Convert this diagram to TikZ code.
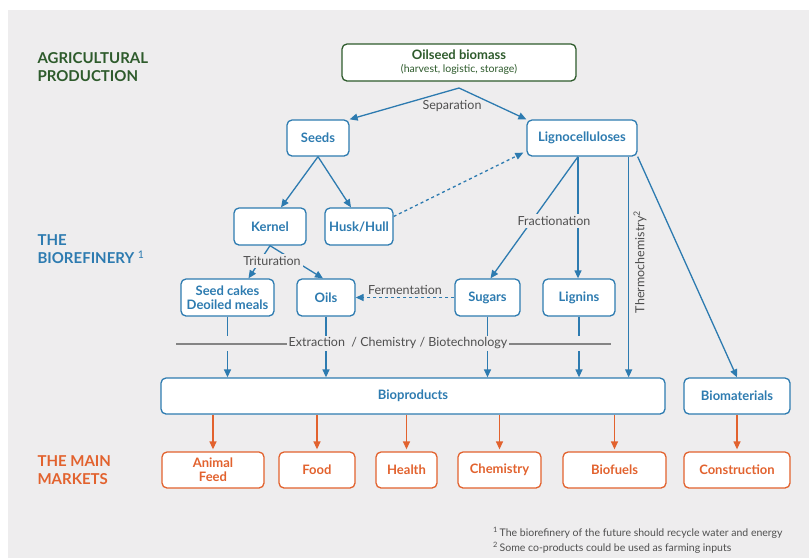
\documentclass[tikz,border=0pt]{standalone}
\usepackage{fontspec}
\setmainfont{Lato}
\usetikzlibrary{positioning,arrows.meta}
\definecolor{agrigreen}{HTML}{2E5B2C}
\definecolor{refblue}{HTML}{2D7BB0}
\definecolor{mktorange}{HTML}{E2622E}
\definecolor{bggray}{HTML}{EEEDEE}
\definecolor{labelgray}{HTML}{4F4F4F}
\tikzset{main node/.style={draw,rounded corners=5pt,fill=white,line width=1.3pt,align=center,
    font=\bfseries\fontsize{13}{14}\selectfont,inner sep=1pt,minimum height=36pt},
  green node/.style={main node,draw=agrigreen,text=agrigreen},
  blue node/.style={main node,draw=refblue,text=refblue},
  orange node/.style={main node,draw=mktorange,text=mktorange},
  title/.style={anchor=west,align=left,font=\bfseries\fontsize{15}{18}\selectfont},
  way label/.style={text=labelgray,font=\fontsize{12.5}{14}\selectfont,inner sep=2pt},
  flow/.style={draw=refblue,line width=1.3pt,-{Triangle[length=8pt,width=7pt]}},
  flow line/.style={draw=refblue,line width=1.3pt},
  market flow/.style={draw=mktorange,line width=1.3pt,-{Triangle[length=8pt,width=7pt]},shorten >=2pt},
}

\begin{document}
\begin{tikzpicture}[x=1pt,y=-1pt]
	\useasboundingbox (0,0) rectangle (809,558);
	\fill[white] (0,0) rectangle (809,558);
	\fill[bggray] (8,10) rectangle (809,558);
	
	% row titles
	\node[title,text=agrigreen] (agri) at (34,67) {AGRICULTURAL\\PRODUCTION};
	\node[title,text=refblue] (refinery) at (34,249) {THE\\BIOREFINERY {\mdseries\textsuperscript{1}}};
	\node[title,text=mktorange] (markets) at (34,470.5) {THE MAIN\\MARKETS};
	
	% boxes
	\node[green node,minimum width=234pt,minimum height=37pt] (biomass) at (459,62.5)
		{Oilseed biomass\\[-1pt]{\mdseries\fontsize{10.5}{12}\selectfont(harvest, logistic, storage)}};
	\node[blue node,minimum width=62pt] (seeds) at (318,138) {Seeds};
	\node[blue node,minimum width=110pt] (ligno) at (582,138) {Lignocelluloses};
	\node[blue node,minimum width=72pt,minimum height=37pt] (kernel) at (270,226.5) {Kernel};
	\node[blue node,minimum width=68pt,minimum height=37pt] (husk) at (359,226.5) {Husk/Hull};
	\node[blue node,minimum width=93pt,minimum height=37pt] (seedcakes) at (227.5,297.5) {Seed cakes\\Deoiled meals};
	\node[blue node,minimum width=58pt,minimum height=37pt] (oils) at (326,297.5) {Oils};
	\node[blue node,minimum width=65pt,minimum height=37pt] (sugars) at (487.5,297.5) {Sugars};
	\node[blue node,minimum width=72pt,minimum height=37pt] (lignins) at (579,297.5) {Lignins};
	\node[blue node,minimum width=504pt] (bioproducts) at (413,396) {Bioproducts};
	\node[blue node,minimum width=106pt] (biomaterials) at (737,396) {Biomaterials};
	
	\node[orange node,minimum width=102pt] (feed) at (213,470) {Animal\\Feed};
	\node[orange node,minimum width=76pt] (food) at (317,470) {Food};
	\node[orange node,minimum width=61pt] (health) at (406.5,470) {Health};
	\node[orange node,minimum width=83pt] (chemistry) at (499.5,470) {Chemistry};
	\node[orange node,minimum width=103pt] (biofuels) at (614.5,470) {Biofuels};
	\node[orange node,minimum width=106pt] (construction) at (737,470) {Construction};
	
	% separation
	\coordinate (split) at (459,88);
	\draw[flow] (split) -- (seeds.north east);
	\draw[flow] (split) -- (ligno.north west);
	\node[way label] (separation) at (452,106) {Separation};
	
	\draw[flow] (seeds.south) -- ([xshift=11pt]kernel.north);
	\draw[flow] (seeds.south) -- ([xshift=-8pt]husk.north);
	\draw[flow,dashed] ([yshift=10pt]husk.east) -- ([xshift=-3pt,yshift=4pt]ligno.south west);
	
	% trituration
	\draw[flow] (kernel.south) -- ([xshift=21pt]seedcakes.north);
	\draw[flow] (kernel.south) -- ([xshift=-3pt]oils.north);
	\node[way label,fill=bggray] (trituration) at (272,261) {Trituration};
	
	% fractionation
	\draw[flow] ([xshift=-4pt]ligno.south) -- ([xshift=3pt]sugars.north);
	\draw[flow] ([xshift=-4pt]ligno.south) -- ([xshift=-4pt]ligno.south |- lignins.north);
	\node[way label,fill=bggray] (fractionation) at (554,221) {Fractionation};
	
	\draw[flow,dashed] (sugars.west) -- node[way label,above] (fermentation) {Fermentation} (oils.east);
	
	% thermochemistry
	\draw[flow] ([xshift=-9pt]ligno.south east) -- ([xshift=-9pt]ligno.south east |- bioproducts.north);
	\node[way label,rotate=90] (thermo) at (640,262) {Thermochemistry\textsuperscript{2}};
	\draw[flow] (ligno.south east) -- (biomaterials.north);
	
	% extraction
	\coordinate (gapTop) at (0,336);
	\coordinate (gapBot) at (0,351);
	\draw[labelgray!70,line width=2pt] (176,344) -- (611,344);
	\node[way label,fill=bggray] (extraction) at (398,343) {Extraction\ \ / Chemistry / Biotechnology};
	\foreach \n in {seedcakes,oils,sugars,lignins}{
		\draw[flow line] (\n.south) -- (\n.south |- gapTop);
		\draw[flow] (\n.south |- gapBot) -- (\n.south |- bioproducts.north);
	}
	
	% markets
	\foreach \n in {feed,food,health,chemistry,biofuels}
		\draw[market flow] (\n.north |- bioproducts.south) -- (\n.north);
	\draw[market flow] (biomaterials.south) -- (construction.north);
	
	% footnotes
	\node[anchor=west,text=labelgray,font=\fontsize{10.5}{12}\selectfont,inner sep=0pt] (note1) at (493,533)
		{\textsuperscript{1}\,The biorefinery of the future should recycle water and energy};
	\node[anchor=west,text=labelgray,font=\fontsize{10.5}{12}\selectfont,inner sep=0pt] (note2) at (493,548)
		{\textsuperscript{2}\,Some co-products could be used as farming inputs};
\end{tikzpicture}
\end{document}
